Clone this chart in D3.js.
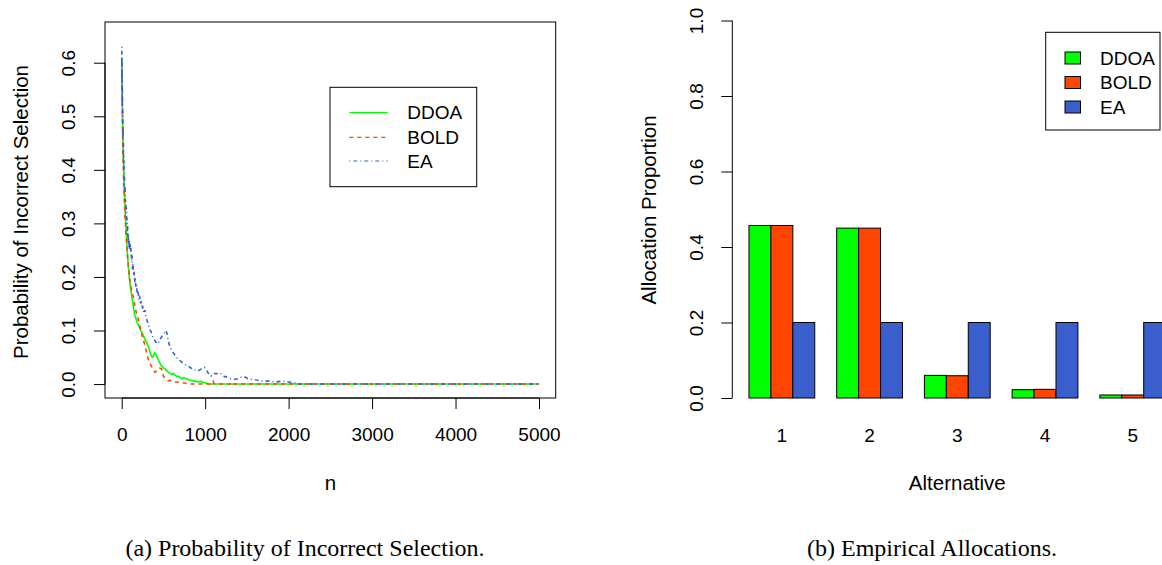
<!DOCTYPE html>
<html><head><meta charset="utf-8">
<script src="https://cdn.jsdelivr.net/npm/d3@7"></script>
<style>html,body{margin:0;padding:0;background:#fff;}svg{display:block;}</style>
</head><body>
<svg id="c" width="1162" height="565"></svg>
<script>
// ---- data: left panel (probability of incorrect selection vs n) ----
const seriesNames = ["DDOA", "BOLD", "EA"];
const ddoaN = [1,3,5,8,12,16,20,25,30,35,40,45,50,56,62,68,75,82,90,98,106,115,125,135,145,155,165,175,185,200,215,230,245,260,275,290,305,320,335,350,365,380,395,410,425,440,455,470,485,500,520,540,560,580,600,620,640,660,680,700,720,740,760,780,800,830,860,890,920,950,980,1010,1040,5000];
const ddoaP = [0.61,0.58,0.55,0.52,0.48,0.45,0.42,0.40,0.37,0.35,0.33,0.31,0.30,0.28,0.26,0.245,0.23,0.215,0.20,0.19,0.18,0.17,0.16,0.15,0.14,0.13,0.125,0.12,0.115,0.11,0.105,0.10,0.095,0.09,0.085,0.08,0.075,0.07,0.062,0.055,0.05,0.052,0.058,0.055,0.05,0.045,0.04,0.035,0.033,0.03,0.028,0.025,0.022,0.02,0.018,0.02,0.017,0.014,0.015,0.012,0.01,0.012,0.011,0.01,0.008,0.007,0.006,0.005,0.004,0.005,0.003,0.002,0,0];
const boldN = [1,3,5,8,12,16,20,25,30,35,40,45,50,56,62,68,75,82,90,98,106,115,125,135,150,165,180,199,215,230,245,259,275,290,305,319,335,350,365,380,399,415,430,445,459,479,500,520,540,558,580,600,640,678,700,760,800,1080,1095,1110,1300,1310,1320,5000];
const boldP = [0.60,0.57,0.54,0.50,0.46,0.43,0.40,0.37,0.35,0.33,0.31,0.30,0.28,0.27,0.255,0.24,0.23,0.215,0.205,0.195,0.185,0.178,0.17,0.165,0.152,0.14,0.13,0.121,0.11,0.10,0.09,0.083,0.074,0.065,0.055,0.046,0.04,0.035,0.031,0.028,0.022,0.024,0.026,0.03,0.03,0.028,0.015,0.01,0.008,0.006,0.007,0.005,0.004,0.004,0.002,0.002,0,0,0.005,0,0,0.003,0,0];
const eaN = [1,2,3,4,6,7,9,11,13,15,17,19,21,24,27,30,33,36,40,44,48,52,56,60,64,68,72,76,80,85,90,95,100,106,112,118,124,130,136,142,148,155,162,170,178,186,195,205,215,225,235,245,255,265,278,290,305,320,335,350,365,380,395,410,425,440,455,470,485,500,515,530,545,560,575,590,610,630,650,670,690,710,730,750,770,790,810,830,850,870,890,910,930,950,970,990,1010,1030,1050,1070,1090,1110,1130,1150,1170,1190,1210,1230,1250,1270,1300,1330,1360,1390,1420,1450,1480,1510,1540,1570,1600,1640,1680,1720,1760,1800,1850,1900,1950,2000,2050,2080,2110,5000];
const eaP = [0.63,0.57,0.61,0.55,0.58,0.52,0.55,0.49,0.51,0.46,0.48,0.43,0.45,0.41,0.42,0.38,0.39,0.36,0.37,0.34,0.345,0.32,0.33,0.30,0.31,0.28,0.295,0.265,0.28,0.255,0.27,0.25,0.262,0.245,0.255,0.23,0.24,0.215,0.225,0.205,0.21,0.19,0.20,0.18,0.185,0.168,0.175,0.158,0.165,0.148,0.155,0.14,0.145,0.132,0.138,0.125,0.118,0.11,0.104,0.098,0.092,0.086,0.082,0.078,0.075,0.077,0.082,0.086,0.09,0.093,0.096,0.10,0.093,0.08,0.07,0.066,0.06,0.056,0.05,0.048,0.045,0.042,0.04,0.038,0.035,0.034,0.032,0.03,0.028,0.027,0.025,0.024,0.026,0.028,0.03,0.031,0.028,0.022,0.018,0.015,0.018,0.02,0.019,0.02,0.021,0.019,0.016,0.014,0.014,0.012,0.01,0.009,0.009,0.01,0.012,0.014,0.013,0.01,0.009,0.009,0.008,0.007,0.006,0.005,0.006,0.005,0.004,0.005,0.005,0.004,0.003,0.002,0,0];
const xTicksLeft = [0,1000,2000,3000,4000,5000];
const yTicksLeft = [0,0.1,0.2,0.3,0.4,0.5,0.6];

// ---- data: right panel (empirical allocations) ----
const alternatives = ["1","2","3","4","5"];
const ddoaAlloc = [0.457,0.450,0.060,0.022,0.008];
const boldAlloc = [0.457,0.450,0.059,0.023,0.008];
const eaAlloc   = [0.2,0.2,0.2,0.2,0.2];
const yTicksRight = [0,0.2,0.4,0.6,0.8,1.0];

const colGreen = "#00ff00", colOrange = "#ff4500", colBlue = "#3a5fcd";
const FONT = "'Liberation Sans', Arial, Helvetica, sans-serif";
const FS = 19;
const FT = 20.5;

const svg = d3.select("#c");

// ================= LEFT PANEL =================
const xL = d3.scaleLinear().domain([-200, 5200]).range([105, 555.7]);
const yL = d3.scaleLinear().domain([-0.026, 0.676]).range([398, 22]);

const gL = svg.append("g");
const line = d3.line().x(d => xL(d[0])).y(d => yL(d[1]));
const leftSeries = [
  {name:"DDOA", n:ddoaN, p:ddoaP, color:colGreen, dash:null},
  {name:"BOLD", n:boldN, p:boldP, color:colOrange, dash:"4,4"},
  {name:"EA", n:eaN, p:eaP, color:colBlue, dash:"1,3,4,3"}
];
leftSeries.forEach(s => {
  const pts = s.n.map((v,i) => [v, s.p[i]]);
  gL.append("path").attr("d", line(pts)).attr("fill","none")
    .attr("stroke", s.color).attr("stroke-width", 1.6)
    .attr("stroke-dasharray", s.dash);
});

// box
gL.append("rect").attr("x",105).attr("y",22).attr("width",555.7-105).attr("height",398-22)
  .attr("fill","none").attr("stroke","#000").attr("stroke-width",1);

// axes
const axB = d3.axisBottom(xL).tickValues(xTicksLeft).tickSize(11).tickPadding(19).tickFormat(d3.format("d"));
const gxb = gL.append("g").attr("transform","translate(0,398)").call(axB);
gxb.select(".domain").attr("d", `M${xL(0)},0H${xL(5000)}`);
const axLft = d3.axisLeft(yL).tickValues(yTicksLeft).tickSize(11).tickPadding(0).tickFormat(d3.format(".1f"));
const gyl = gL.append("g").attr("transform","translate(105,0)").call(axLft);
gyl.select(".domain").attr("d", `M0,${yL(0)}V${yL(0.6)}`);
gyl.selectAll(".tick text").attr("transform","rotate(-90)").attr("x",0).attr("y",-37)
  .attr("dy","0.35em").attr("text-anchor","middle");
[gxb, gyl].forEach(g => {
  g.selectAll("text").attr("font-family",FONT).attr("font-size",FS).attr("fill","#000");
  g.selectAll("line,path").attr("stroke","#000");
});
gxb.selectAll(".tick text").attr("dy","0.71em");

gL.append("text").attr("x", xL(2500)).attr("y", 490).attr("text-anchor","middle")
  .attr("font-family",FONT).attr("font-size",FT).text("n");
gL.append("text").attr("transform","translate(28,212) rotate(-90)").attr("text-anchor","middle")
  .attr("font-family",FONT).attr("font-size",FT).text("Probability of Incorrect Selection");

// legend (left)
const lg = gL.append("g");
lg.append("rect").attr("x",330).attr("y",87.3).attr("width",476.7-330).attr("height",186.7-87.3)
  .attr("fill","#fff").attr("stroke","#000").attr("stroke-width",1);
const legYs = [112.7, 137.3, 161];
leftSeries.forEach((s,i) => {
  lg.append("line").attr("x1",349.3).attr("x2",387.7).attr("y1",legYs[i]).attr("y2",legYs[i])
    .attr("stroke",s.color).attr("stroke-width",1.2).attr("stroke-dasharray",s.dash);
  lg.append("text").attr("x",407.3).attr("y",legYs[i]).attr("dy","0.35em")
    .attr("font-family",FONT).attr("font-size",FS).text(s.name);
});

// ================= RIGHT PANEL =================
const xR = d3.scaleLinear().domain([0.24, 20.76]).range([732.3, 1182.3]);
const yR = d3.scaleLinear().domain([0, 1]).range([398, 20.5]);
const gR = svg.append("g");
const allocs = [ddoaAlloc, boldAlloc, eaAlloc];
const cols = [colGreen, colOrange, colBlue];
alternatives.forEach((a, gi) => {
  allocs.forEach((arr, si) => {
    const u0 = 1 + gi*4 + si;
    gR.append("rect").attr("x", xR(u0)).attr("width", xR(u0+1)-xR(u0))
      .attr("y", yR(arr[gi])).attr("height", yR(0)-yR(arr[gi]))
      .attr("fill", cols[si]).attr("stroke","#000").attr("stroke-width",1);
  });
  gR.append("text").attr("x", xR(1 + gi*4 + 1.5)).attr("y", 435).attr("dy","0.35em")
    .attr("text-anchor","middle").attr("font-family",FONT).attr("font-size",FS).text(a);
});
const axR = d3.axisLeft(yR).tickValues(yTicksRight).tickSize(11).tickPadding(0).tickFormat(d3.format(".1f"));
const gyr = gR.append("g").attr("transform","translate(732.3,0)").call(axR);
gyr.select(".domain").attr("d", `M0,${yR(0)}V${yR(1)}`);
gyr.selectAll(".tick text").attr("transform","rotate(-90)").attr("x",0).attr("y",-36)
  .attr("dy","0.35em").attr("text-anchor","middle")
  .attr("font-family",FONT).attr("font-size",FS).attr("fill","#000");
gyr.selectAll("line,path").attr("stroke","#000");

gR.append("text").attr("x", xR(10.5)).attr("y", 490).attr("text-anchor","middle")
  .attr("font-family",FONT).attr("font-size",FT).text("Alternative");
gR.append("text").attr("transform","translate(656,210) rotate(-90)").attr("text-anchor","middle")
  .attr("font-family",FONT).attr("font-size",FT).text("Allocation Proportion");

// legend (right)
const rg = gR.append("g");
rg.append("rect").attr("x",1045.7).attr("y",32.3).attr("width",1160-1045.7).attr("height",130-32.3)
  .attr("fill","#fff").attr("stroke","#000").attr("stroke-width",1);
const rLegYs = [58, 82.5, 107];
seriesNames.forEach((nm,i) => {
  rg.append("rect").attr("x",1065).attr("y",rLegYs[i]-6).attr("width",15.5).attr("height",12)
    .attr("fill",cols[i]).attr("stroke","#000").attr("stroke-width",1);
  rg.append("text").attr("x",1100).attr("y",rLegYs[i]).attr("dy","0.35em")
    .attr("font-family",FONT).attr("font-size",FS).text(nm);
});

// ================= CAPTIONS =================
const SERIF = "'Liberation Serif', 'Times New Roman', serif";
svg.append("text").attr("x",305).attr("y",556).attr("text-anchor","middle")
  .attr("font-family",SERIF).attr("font-size",24).text("(a) Probability of Incorrect Selection.");
svg.append("text").attr("x",932).attr("y",556).attr("text-anchor","middle")
  .attr("font-family",SERIF).attr("font-size",24).text("(b) Empirical Allocations.");
</script>
</body></html>
